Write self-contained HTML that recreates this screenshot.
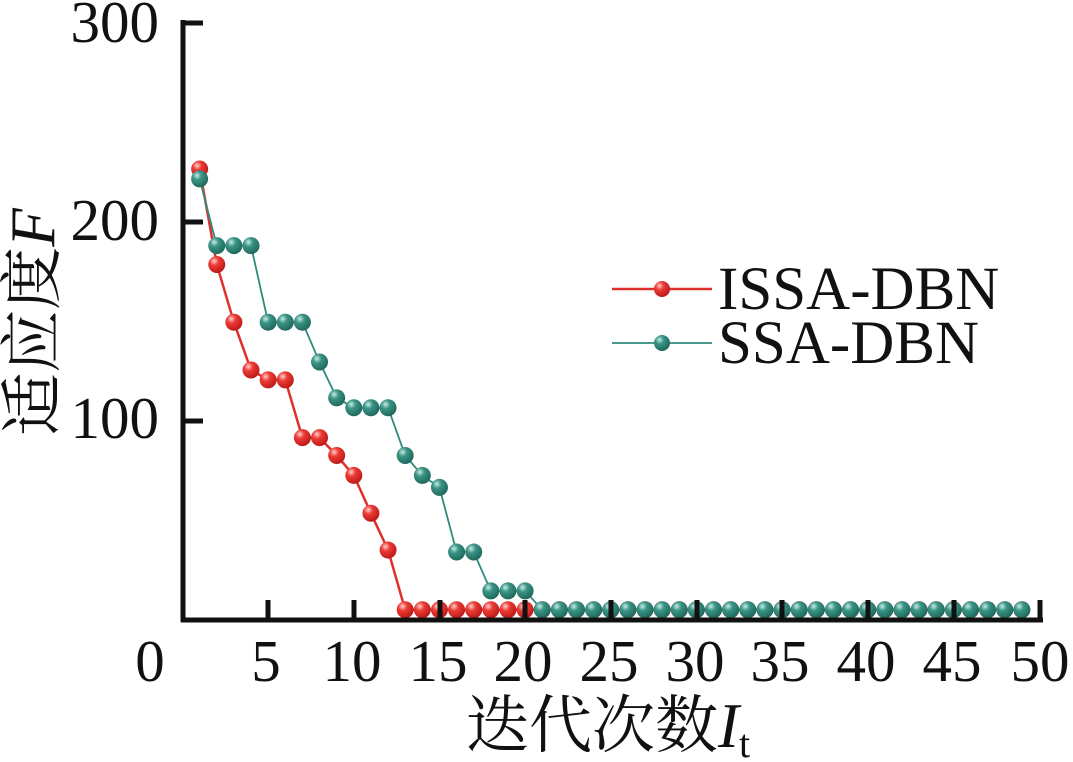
<!DOCTYPE html>
<html><head><meta charset="utf-8"><style>
html,body{margin:0;padding:0;background:#fff;}
svg{display:block;}
text{font-family:"Liberation Serif","Noto Serif CJK SC",serif;fill:#111;}
</style></head><body>
<svg width="1073" height="762" viewBox="0 0 1073 762" xmlns="http://www.w3.org/2000/svg">
<defs>
<radialGradient id="gr" cx="0.35" cy="0.3" r="0.75"><stop offset="0" stop-color="#ffd0cc"/><stop offset="0.35" stop-color="#ec3b35"/><stop offset="1" stop-color="#b81818"/></radialGradient>
<radialGradient id="gt" cx="0.35" cy="0.3" r="0.75"><stop offset="0" stop-color="#c8ece4"/><stop offset="0.35" stop-color="#3a9485"/><stop offset="1" stop-color="#1d6559"/></radialGradient>
</defs>
<g id="plot"></g>
<line x1="183" y1="20" x2="183" y2="622" stroke="#111" stroke-width="5"/>
<line x1="181" y1="620" x2="1043" y2="620" stroke="#111" stroke-width="5"/>
<g stroke="#111" stroke-width="5">
<line x1="183" y1="23" x2="203" y2="23"/>
<line x1="183" y1="222" x2="203" y2="222"/>
<line x1="183" y1="421" x2="203" y2="421"/>
<line x1="268" y1="620" x2="268" y2="600"/>
<line x1="354" y1="620" x2="354" y2="600"/>
<line x1="440" y1="620" x2="440" y2="600"/>
<line x1="525" y1="620" x2="525" y2="600"/>
<line x1="611" y1="620" x2="611" y2="600"/>
<line x1="697" y1="620" x2="697" y2="600"/>
<line x1="782" y1="620" x2="782" y2="600"/>
<line x1="868" y1="620" x2="868" y2="600"/>
<line x1="954" y1="620" x2="954" y2="600"/>
<line x1="1040" y1="620" x2="1040" y2="600"/>
</g>
<g font-size="59" text-anchor="end">
<text x="159" y="42">300</text>
<text x="159" y="240">200</text>
<text x="159" y="438">100</text>
</g>
<g font-size="59" text-anchor="middle">
<text x="150" y="681">0</text>
<text x="266" y="681">5</text>
<text x="352" y="681">10</text>
<text x="438" y="681">15</text>
<text x="523" y="681">20</text>
<text x="609" y="681">25</text>
<text x="695" y="681">30</text>
<text x="780" y="681">35</text>
<text x="866" y="681">40</text>
<text x="952" y="681">45</text>
<text x="1040" y="681">50</text>
</g>
<text x="466" y="747" font-size="63">迭代次数<tspan font-style="italic">I</tspan><tspan font-size="40" dy="10">t</tspan></text>
<text transform="translate(54,322) rotate(-90)" font-size="63" text-anchor="middle">适应度<tspan font-style="italic">F</tspan></text>
<line x1="612" y1="289" x2="712" y2="289" stroke="#e0302b" stroke-width="2.5"/>
<circle cx="662" cy="289" r="8" fill="url(#gr)"/>
<text x="718" y="309" font-size="61">ISSA-DBN</text>
<line x1="612" y1="343" x2="712" y2="343" stroke="#2f8b7c" stroke-width="1.8"/>
<circle cx="662" cy="343" r="8" fill="url(#gt)"/>
<text x="718" y="363" font-size="61">SSA-DBN</text>
<script>
(function(){
var issa=[227,179,150,126,121,121,92,92,83,73,54,35.5];
var ssa=[222,188.5,188.5,188.5,150,150,150,130,112,107,107,107,83,73,67,34.5,34.5,15,15,15];
while(issa.length<49)issa.push(5.5);
while(ssa.length<49)ssa.push(5.5);
var X=function(i){return 182.5+17.13*(i+1);}, Y=function(v){return 620.7-1.99*v;};
var ns="http://www.w3.org/2000/svg", g=document.getElementById('plot');
function draw(d,col,w,grad){
 var p=d.map(function(v,i){return X(i).toFixed(1)+','+Y(v).toFixed(1);}).join(' ');
 var pl=document.createElementNS(ns,'polyline');
 pl.setAttribute('points',p);pl.setAttribute('fill','none');pl.setAttribute('stroke',col);pl.setAttribute('stroke-width',w);
 g.appendChild(pl);
 d.forEach(function(v,i){var c=document.createElementNS(ns,'circle');c.setAttribute('cx',X(i));c.setAttribute('cy',Y(v));c.setAttribute('r',8.5);c.setAttribute('fill','url(#'+grad+')');g.appendChild(c);});
}
draw(issa,'#e0302b',2.5,'gr');
draw(ssa,'#2f8b7c',1.8,'gt');
})();
</script>
</svg>
</body></html>
